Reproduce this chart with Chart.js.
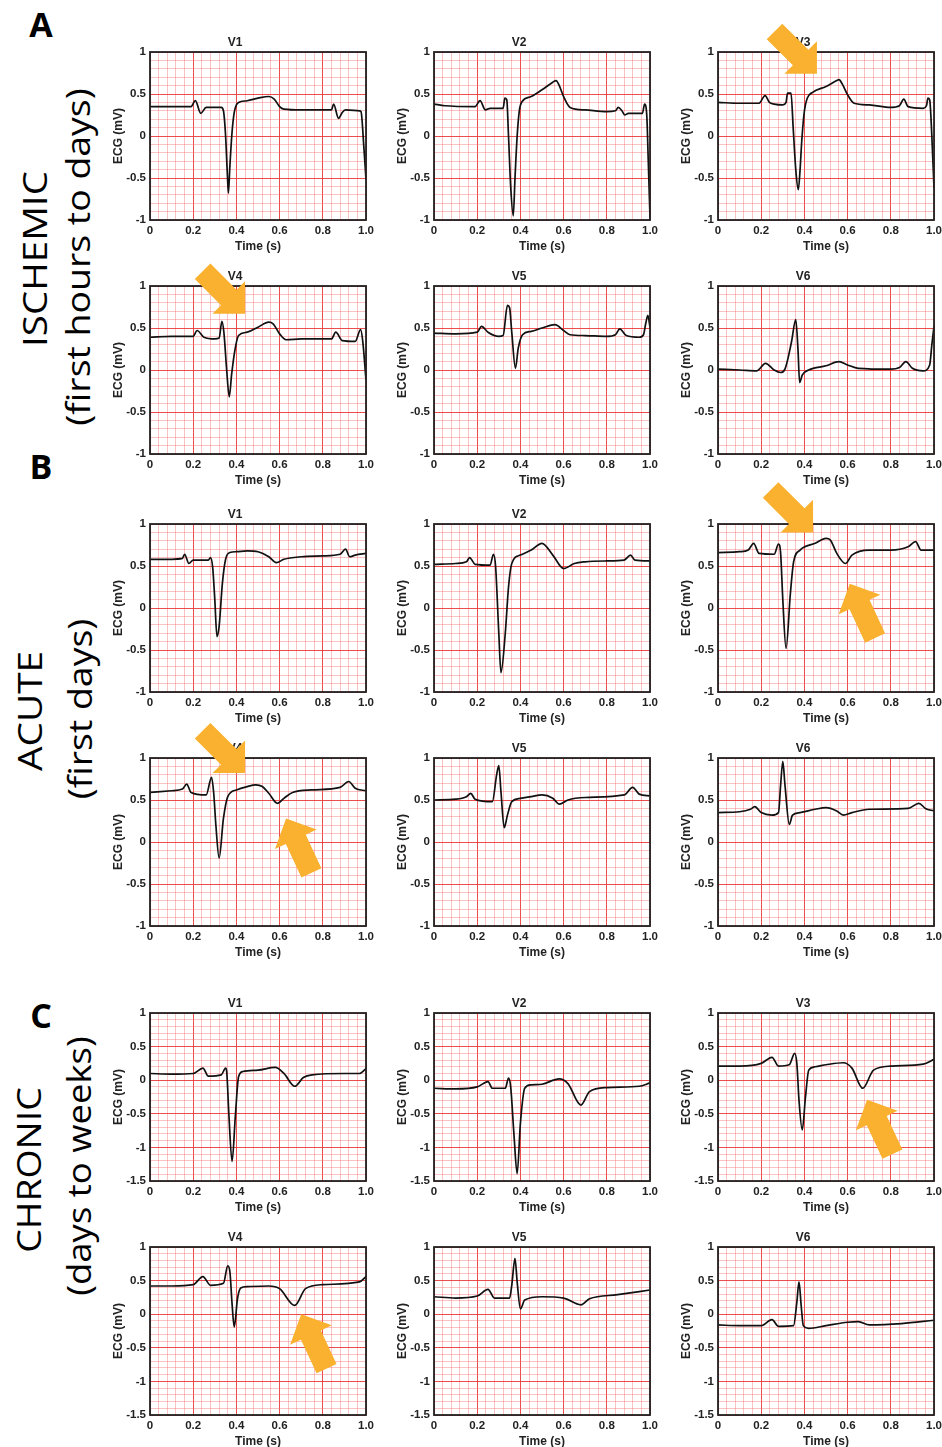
<!DOCTYPE html>
<html>
<head>
<meta charset="utf-8">
<title>ECG V1-V6</title>
<script src="https://cdn.jsdelivr.net/npm/chart.js@4"></script>
<style>
  html, body { margin: 0; padding: 0; background: #fff; }
  #page { position: relative; width: 942px; height: 1447px; overflow: hidden; background: #fff; }
  #page canvas { position: absolute; }
  .letter { position: absolute; font-family: 'Open Sans', sans-serif; font-weight: 700; font-size: 34px; color: #000; transform: translate(-50%, -50%); line-height: 1; }
  .group { position: absolute; font-family: 'Open Sans', sans-serif; font-size: 32px; color: #000; white-space: nowrap; line-height: 1; }
</style>
</head>
<body>
<div id="page"></div>
<script>
// 1. data: [time (s), ECG (mV)]
const leads = ['V1', 'V2', 'V3', 'V4', 'V5', 'V6'];

const ischemicV1 = [[0,0.35],[0.1,0.35],[0.19,0.35],[0.21,0.42],[0.235,0.27],[0.26,0.34],[0.33,0.34],[0.34,0.30],[0.35,0.0],[0.358,-0.45],[0.363,-0.68],[0.37,-0.35],[0.38,0.05],[0.39,0.28],[0.40,0.37],[0.41,0.40],[0.45,0.42],[0.5,0.45],[0.55,0.47],[0.575,0.44],[0.6,0.35],[0.62,0.32],[0.7,0.31],[0.84,0.31],[0.85,0.38],[0.873,0.21],[0.89,0.28],[0.905,0.31],[0.97,0.30],[0.977,0.29],[0.99,-0.13],[1.0,-0.52]];
const ischemicV2 = [[0,0.38],[0.05,0.36],[0.19,0.35],[0.213,0.42],[0.238,0.31],[0.26,0.33],[0.32,0.33],[0.328,0.45],[0.337,0.43],[0.345,0.0],[0.355,-0.6],[0.367,-0.95],[0.375,-0.5],[0.385,0.0],[0.395,0.3],[0.408,0.41],[0.45,0.47],[0.5,0.55],[0.55,0.64],[0.565,0.66],[0.58,0.60],[0.6,0.47],[0.63,0.34],[0.7,0.31],[0.8,0.29],[0.84,0.30],[0.853,0.34],[0.87,0.30],[0.883,0.25],[0.9,0.27],[0.965,0.27],[0.975,0.38],[0.985,0.25],[0.992,-0.3],[1.0,-0.97]];
const ischemicV3 = [[0,0.40],[0.1,0.39],[0.19,0.39],[0.218,0.48],[0.238,0.40],[0.26,0.38],[0.3,0.37],[0.315,0.40],[0.322,0.51],[0.338,0.51],[0.348,0.1],[0.36,-0.4],[0.372,-0.64],[0.38,-0.4],[0.388,-0.05],[0.4,0.3],[0.413,0.45],[0.438,0.52],[0.5,0.59],[0.55,0.66],[0.56,0.67],[0.575,0.62],[0.6,0.49],[0.63,0.39],[0.7,0.37],[0.8,0.34],[0.84,0.36],[0.86,0.44],[0.88,0.35],[0.95,0.33],[0.965,0.36],[0.972,0.45],[0.98,0.43],[0.99,0.0],[1.0,-0.62]];
const ischemicV4 = [[0,0.39],[0.1,0.40],[0.2,0.40],[0.218,0.47],[0.25,0.39],[0.3,0.37],[0.32,0.38],[0.333,0.58],[0.342,0.45],[0.355,0.0],[0.367,-0.32],[0.378,-0.05],[0.392,0.22],[0.41,0.41],[0.45,0.45],[0.5,0.51],[0.55,0.57],[0.57,0.55],[0.6,0.43],[0.63,0.36],[0.7,0.37],[0.8,0.37],[0.84,0.37],[0.86,0.45],[0.89,0.35],[0.95,0.34],[0.975,0.48],[0.985,0.34],[1.0,-0.12]];
const ischemicV5 = [[0,0.44],[0.1,0.43],[0.2,0.45],[0.22,0.52],[0.25,0.45],[0.3,0.40],[0.32,0.41],[0.34,0.77],[0.35,0.74],[0.36,0.45],[0.377,0.02],[0.39,0.26],[0.41,0.42],[0.45,0.46],[0.5,0.50],[0.56,0.54],[0.6,0.47],[0.63,0.42],[0.7,0.41],[0.8,0.40],[0.84,0.42],[0.86,0.49],[0.89,0.41],[0.95,0.39],[0.97,0.42],[0.98,0.55],[0.99,0.65],[1.0,0.51]];
const ischemicV6 = [[0,0.01],[0.1,0.0],[0.18,-0.01],[0.22,0.08],[0.26,0.0],[0.29,-0.03],[0.31,0.01],[0.34,0.33],[0.36,0.60],[0.37,0.26],[0.378,-0.15],[0.39,-0.06],[0.42,0.0],[0.5,0.05],[0.56,0.10],[0.6,0.06],[0.65,0.02],[0.8,0.01],[0.84,0.03],[0.87,0.10],[0.9,0.02],[0.95,-0.01],[0.98,0.06],[0.99,0.30],[1.0,0.52]];

const acuteV1 = [[0,0.58],[0.1,0.58],[0.15,0.59],[0.16,0.64],[0.18,0.53],[0.2,0.57],[0.27,0.57],[0.28,0.60],[0.29,0.49],[0.3,0.1],[0.31,-0.34],[0.32,-0.22],[0.335,0.29],[0.35,0.58],[0.37,0.66],[0.4,0.67],[0.45,0.68],[0.5,0.67],[0.55,0.61],[0.585,0.54],[0.62,0.58],[0.7,0.61],[0.8,0.62],[0.88,0.64],[0.905,0.70],[0.925,0.61],[0.95,0.63],[1.0,0.65]];
const acuteV2 = [[0,0.52],[0.1,0.53],[0.15,0.55],[0.165,0.60],[0.19,0.52],[0.26,0.51],[0.275,0.64],[0.285,0.50],[0.3,-0.3],[0.31,-0.77],[0.33,-0.30],[0.345,0.25],[0.36,0.53],[0.4,0.63],[0.45,0.69],[0.5,0.77],[0.55,0.63],[0.6,0.47],[0.65,0.53],[0.7,0.55],[0.8,0.56],[0.88,0.57],[0.91,0.63],[0.93,0.57],[1.0,0.56]];
const acuteV3 = [[0,0.66],[0.1,0.67],[0.14,0.69],[0.165,0.77],[0.19,0.65],[0.26,0.64],[0.28,0.76],[0.29,0.65],[0.3,0.1],[0.315,-0.48],[0.335,0.17],[0.35,0.55],[0.38,0.69],[0.45,0.77],[0.5,0.83],[0.52,0.81],[0.55,0.65],[0.59,0.53],[0.62,0.63],[0.7,0.69],[0.8,0.69],[0.88,0.73],[0.915,0.79],[0.94,0.69],[1.0,0.69]];
const acuteV4 = [[0,0.59],[0.1,0.61],[0.15,0.63],[0.17,0.69],[0.19,0.59],[0.26,0.56],[0.285,0.77],[0.295,0.58],[0.305,0.2],[0.32,-0.19],[0.34,0.28],[0.36,0.54],[0.4,0.62],[0.45,0.66],[0.49,0.68],[0.52,0.66],[0.55,0.58],[0.59,0.46],[0.62,0.52],[0.66,0.59],[0.75,0.62],[0.88,0.65],[0.92,0.72],[0.95,0.64],[1.0,0.61]];
const acuteV5 = [[0,0.50],[0.1,0.51],[0.15,0.54],[0.17,0.58],[0.19,0.51],[0.27,0.48],[0.29,0.80],[0.3,0.91],[0.31,0.60],[0.325,0.17],[0.34,0.32],[0.36,0.48],[0.4,0.52],[0.45,0.54],[0.5,0.56],[0.55,0.52],[0.58,0.45],[0.62,0.50],[0.7,0.53],[0.88,0.56],[0.92,0.65],[0.95,0.57],[1.0,0.55]];
const acuteV6 = [[0,0.35],[0.1,0.36],[0.15,0.39],[0.17,0.42],[0.2,0.35],[0.25,0.32],[0.28,0.35],[0.29,0.68],[0.3,0.96],[0.31,0.68],[0.33,0.21],[0.345,0.32],[0.38,0.35],[0.45,0.39],[0.5,0.41],[0.55,0.37],[0.58,0.32],[0.62,0.35],[0.7,0.39],[0.88,0.40],[0.93,0.46],[0.96,0.40],[1.0,0.37]];

const chronicV1 = [[0,0.10],[0.1,0.09],[0.2,0.10],[0.245,0.18],[0.27,0.06],[0.33,0.08],[0.35,0.18],[0.355,0.13],[0.365,-0.5],[0.38,-1.21],[0.395,-0.54],[0.41,0.05],[0.43,0.13],[0.5,0.15],[0.58,0.19],[0.62,0.10],[0.67,-0.09],[0.71,0.04],[0.75,0.08],[0.9,0.10],[0.97,0.10],[1.0,0.17]];
const chronicV2 = [[0,-0.12],[0.1,-0.13],[0.2,-0.10],[0.25,-0.02],[0.27,-0.12],[0.33,-0.12],[0.345,0.03],[0.355,-0.10],[0.37,-0.8],[0.385,-1.39],[0.4,-0.64],[0.42,-0.12],[0.45,-0.07],[0.5,-0.06],[0.58,0.02],[0.62,-0.05],[0.68,-0.37],[0.72,-0.17],[0.8,-0.11],[0.95,-0.09],[1.0,-0.04]];
const chronicV3 = [[0,0.21],[0.1,0.21],[0.2,0.25],[0.25,0.34],[0.28,0.21],[0.33,0.23],[0.355,0.40],[0.365,0.25],[0.375,-0.3],[0.39,-0.74],[0.405,-0.25],[0.42,0.15],[0.45,0.20],[0.5,0.23],[0.58,0.26],[0.62,0.18],[0.67,-0.12],[0.72,0.15],[0.8,0.21],[0.95,0.24],[1.0,0.31]];
const chronicV4 = [[0,0.42],[0.1,0.42],[0.2,0.44],[0.245,0.56],[0.28,0.43],[0.34,0.46],[0.36,0.72],[0.37,0.63],[0.38,0.15],[0.39,-0.19],[0.405,0.23],[0.42,0.39],[0.45,0.41],[0.55,0.42],[0.6,0.38],[0.67,0.13],[0.72,0.38],[0.8,0.44],[0.97,0.48],[1.0,0.56]];
const chronicV5 = [[0,0.26],[0.1,0.24],[0.2,0.27],[0.25,0.37],[0.28,0.24],[0.35,0.24],[0.36,0.43],[0.375,0.83],[0.385,0.48],[0.4,0.08],[0.42,0.21],[0.5,0.26],[0.6,0.24],[0.68,0.14],[0.72,0.23],[0.85,0.29],[1.0,0.36]];
const chronicV6 = [[0,-0.16],[0.1,-0.17],[0.2,-0.17],[0.25,-0.08],[0.28,-0.18],[0.35,-0.17],[0.365,0.18],[0.375,0.48],[0.385,0.13],[0.395,-0.17],[0.42,-0.21],[0.5,-0.17],[0.6,-0.12],[0.65,-0.11],[0.7,-0.16],[0.85,-0.14],[1.0,-0.09]];

// group labels and y-axis lower limits
const groupLetters = ['A', 'B', 'C'];
const groupNames = ['ISCHEMIC', 'ACUTE', 'CHRONIC'];
const groupPhases = ['(first hours to days)', '(first days)', '(days to weeks)'];
const groupYMin = [-1, -1, -1.5];
const groupTraces = [
    [ischemicV1, ischemicV2, ischemicV3, ischemicV4, ischemicV5, ischemicV6],
    [acuteV1, acuteV2, acuteV3, acuteV4, acuteV5, acuteV6],
    [chronicV1, chronicV2, chronicV3, chronicV4, chronicV5, chronicV6]
];

// arrows: panel index, tip time (s), tip ECG (mV), pointing angle (deg)
const arrowTips = [
    [2, 0.458, 0.74, 45], [3, 0.44, 0.67, 45],
    [8, 0.44, 0.90, 45], [8, 0.61, 0.29, -115],
    [9, 0.44, 0.82, 45], [9, 0.63, 0.28, -115],
    [14, 0.69, -0.29, -115], [15, 0.70, 0.0, -115]
];

// 2. layout (pixels)
const colLeft = [150, 434, 718];
const rowTop = [52, 286, 524, 758, 1013, 1247];
const plotW = 216, plotH = 168;
const axisW = 46, titleH = 18, axisH = 36, padRight = 12;

const FONT = "'Liberation Sans', Arial, sans-serif";
const INK = '#222';
const MAJOR = 'rgba(234, 58, 58, 0.9)';
const MINOR = 'rgba(242, 110, 110, 0.42)';

const page = document.getElementById('page');
const isMultiple = (v, step) => Math.abs(v / step - Math.round(v / step)) < 1e-6;

// black box around the plot area (MATLAB "box on")
const boxPlugin = {
    id: 'box',
    afterDatasetsDraw(chart) {
        const { ctx, chartArea: a } = chart;
        ctx.save();
        ctx.strokeStyle = INK;
        ctx.lineWidth = 1.8;
        ctx.strokeRect(a.left, a.top, a.right - a.left, a.bottom - a.top);
        ctx.restore();
    }
};

/**
 * 3. one ECG panel
 */
function makePanel(lead, trace, yMin, left, top) {
    const canvas = document.createElement('canvas');
    canvas.width = axisW + plotW + padRight;
    canvas.height = titleH + plotH + axisH;
    canvas.style.left = (left - axisW) + 'px';
    canvas.style.top = (top - titleH) + 'px';
    page.appendChild(canvas);

    const tickFont = { family: FONT, size: 11.5, weight: 'bold' };
    const titleFont = { family: FONT, size: 12, weight: 'bold' };

    const chart = new Chart(canvas.getContext('2d'), {
        type: 'line',
        data: {
            datasets: [{
                data: trace.map(([x, y]) => ({ x, y })),
                borderColor: '#111',
                borderWidth: 1.7,
                pointRadius: 0,
                cubicInterpolationMode: 'monotone',
                fill: false
            }]
        },
        plugins: [boxPlugin],
        options: {
            responsive: false,
            animation: false,
            events: [],
            layout: { padding: { top: 0, right: padRight, bottom: 0, left: 0 } },
            plugins: {
                legend: { display: false },
                tooltip: { enabled: false },
                title: {
                    display: true, text: lead, color: INK,
                    font: { family: FONT, size: 12, weight: 'bold', lineHeight: '14px' },
                    padding: { top: 2, bottom: 2 }
                }
            },
            scales: {
                x: {
                    type: 'linear', min: 0, max: 1,
                    afterFit: s => { s.height = axisH; },
                    ticks: {
                        stepSize: 0.04, autoSkip: false, maxRotation: 0, padding: 4,
                        color: INK, font: tickFont,
                        callback: v => !isMultiple(v, 0.2) ? '' : (v < 1e-6 ? '0' : v.toFixed(1))
                    },
                    grid: {
                        drawTicks: false, lineWidth: 1,
                        color: c => isMultiple(c.tick.value, 0.2) ? MAJOR : MINOR
                    },
                    border: { display: false },
                    title: { display: true, text: 'Time (s)', color: INK, font: titleFont, padding: { top: 0, bottom: 2 } }
                },
                y: {
                    min: yMin, max: 1,
                    afterFit: s => { s.width = axisW; },
                    ticks: {
                        stepSize: 0.1, autoSkip: false, padding: 4,
                        color: INK, font: tickFont,
                        callback: v => isMultiple(v, 0.5) ? String(Math.round(v * 10) / 10) : ''
                    },
                    grid: {
                        drawTicks: false, lineWidth: 1,
                        color: c => isMultiple(c.tick.value, 0.5) ? MAJOR : MINOR
                    },
                    border: { display: false },
                    title: { display: true, text: 'ECG (mV)', color: INK, font: titleFont, padding: { top: 7, bottom: 0 } }
                }
            }
        }
    });
    return { chart, left: left - axisW, top: top - titleH };
}

/**
 * 4. group labels on the left
 */
const letterPos = [[41, 24], [41, 466], [41, 1015]];
const namePos = [[35, 259, 176], [30, 711, 120], [29, 1170, 166]];
const phasePos = [[78, 257, 338], [80, 709, 180], [79, 1166, 260]];

function addRotated(text, [cx, cy, length]) {
    const el = document.createElement('div');
    el.className = 'group';
    el.textContent = text;
    page.appendChild(el);
    const k = length / el.offsetWidth;
    el.style.left = cx + 'px';
    el.style.top = cy + 'px';
    el.style.transform = `translate(-50%, -50%) rotate(-90deg) scaleX(${k})`;
}

groupLetters.forEach((letter, g) => {
    const el = document.createElement('div');
    el.className = 'letter';
    el.textContent = letter;
    el.style.left = letterPos[g][0] + 'px';
    el.style.top = letterPos[g][1] + 'px';
    page.appendChild(el);
    addRotated(groupNames[g], namePos[g]);
    addRotated(groupPhases[g], phasePos[g]);
});

// 5. build the 18 panels
const panels = [];
groupTraces.forEach((traces, g) => {
    traces.forEach((trace, i) => {
        const row = g * 2 + Math.floor(i / 3);
        const col = i % 3;
        panels.push(makePanel(leads[i], trace, groupYMin[g], colLeft[col], rowTop[row]));
    });
});

// 6. orange arrows, anchored in data coordinates of their panel
const overlay = document.createElement('canvas');
overlay.width = 942;
overlay.height = 1447;
overlay.style.left = '0px';
overlay.style.top = '0px';
page.appendChild(overlay);
const octx = overlay.getContext('2d');

const headLen = 23, headHalf = 23, bodyHalf = 11, arrowLen = 60;
arrowTips.forEach(([p, t, v, angle]) => {
    const { chart, left, top } = panels[p];
    const x = left + chart.scales.x.getPixelForValue(t);
    const y = top + chart.scales.y.getPixelForValue(v);
    octx.save();
    octx.translate(x, y);
    octx.rotate(angle * Math.PI / 180);
    octx.beginPath();
    octx.moveTo(0, 0);
    octx.lineTo(-headLen, -headHalf);
    octx.lineTo(-headLen, -bodyHalf);
    octx.lineTo(-arrowLen, -bodyHalf);
    octx.lineTo(-arrowLen, bodyHalf);
    octx.lineTo(-headLen, bodyHalf);
    octx.lineTo(-headLen, headHalf);
    octx.closePath();
    octx.fillStyle = '#FAB12F';
    octx.fill();
    octx.restore();
});
</script>
</body>
</html>
